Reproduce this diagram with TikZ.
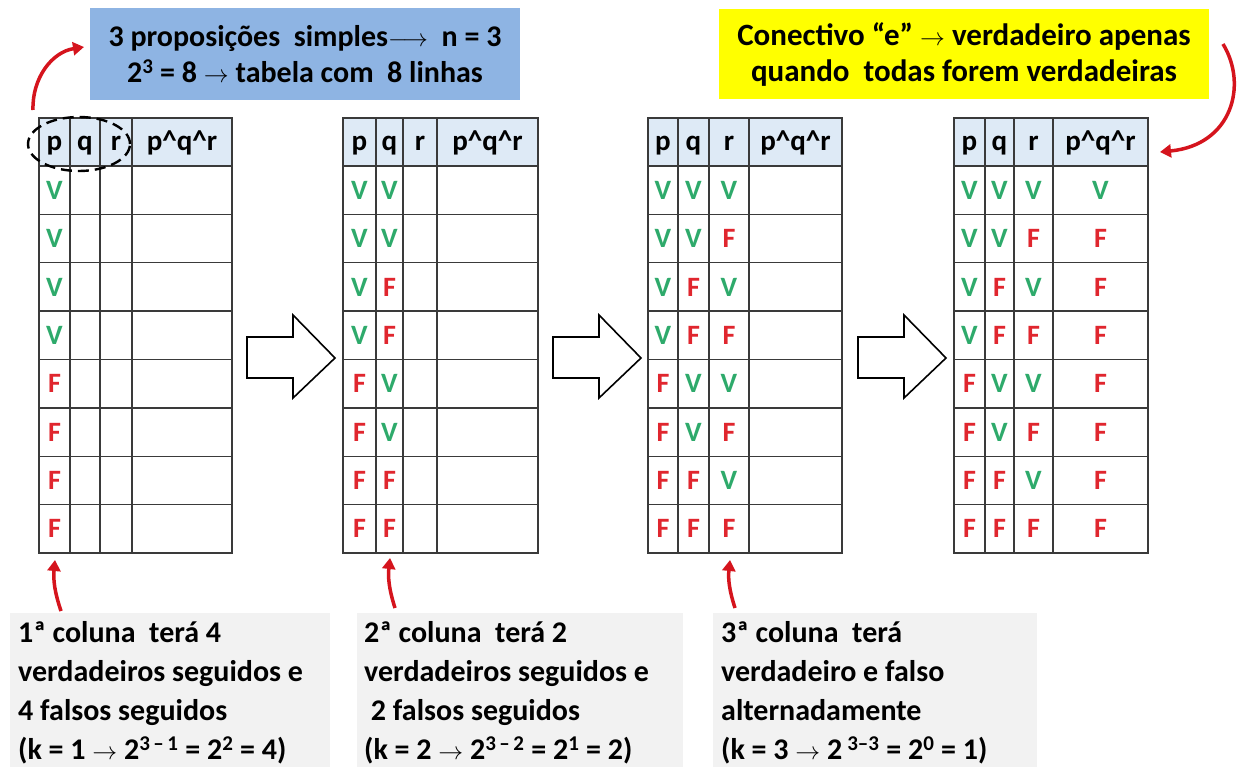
\documentclass[tikz,border=0pt]{standalone}
\usepackage{fontspec}
\setmainfont{Carlito}
\usetikzlibrary{arrows.meta,shapes.geometric}
\definecolor{hdr}{HTML}{DEEAF6}
\definecolor{vgreen}{HTML}{2EAA6B}
\definecolor{fred}{HTML}{E0262E}
\definecolor{arrred}{HTML}{D5141D}
\definecolor{bluebox}{HTML}{8EB4E3}
\definecolor{yellowbox}{HTML}{FFFF00}
\definecolor{graybox}{HTML}{F2F2F2}
\definecolor{linegray}{HTML}{3A3A3A}
\newcommand\tv[1]{\if V#1\textcolor{vgreen}{V}\else\textcolor{fred}{F}\fi}
\newcommand\drawtable[6]{%
  \fill[hdr] (#2,118) rectangle (#6,166);
  \foreach \k in {0,...,7} \draw[tline] (#2,{166+48.375*\k}) -- (#6,{166+48.375*\k});
  \draw[tline] (#2,118) rectangle (#6,553);
  \foreach \xx in {#3,#4,#5} \draw[tline] (\xx,118) -- (\xx,553);
  \node[hd] (#1hp) at ({(#2+#3)/2},151) {p};
  \node[hd] (#1hq) at ({(#3+#4)/2},151) {q};
  \node[hd] (#1hr) at ({(#4+#5)/2},151) {r};
  \node[hd] (#1hx) at ({(#5+#6)/2},151) {p\textasciicircum q\textasciicircum r};
}
\newcommand\fillcol[5]{%
  \foreach \v [count=\i] in {#5}
    \node[cell] (#1#2\i) at ({(#3+#4)/2},{166+48.375*(\i-0.5)}) {\tv{\v}};
}
\newcommand\blockarrow[1]{%
  \draw[barrow] ({247+#1},337) -- ({293+#1},337) -- ({293+#1},315) -- ({335+#1},358)
    -- ({293+#1},398) -- ({293+#1},378) -- ({247+#1},378) -- cycle;
}
\begin{document}
\begin{tikzpicture}[x=1pt,y=-1pt,
  tline/.style={draw=linegray,line width=1.3pt},
  hd/.style={font=\fontsize{29}{32}\selectfont\bfseries,anchor=base,inner sep=0pt},
  cell/.style={font=\fontsize{28}{32}\selectfont\bfseries,inner sep=0pt},
  topbox/.style={font=\fontsize{30}{36}\selectfont\bfseries,align=center,inner sep=0pt},
  btext/.style={font=\fontsize{30}{39}\selectfont\bfseries,align=left,
     anchor=north west,inner sep=0pt},
  redarrow/.style={draw=arrred,line width=3.5pt,-{Triangle[length=11pt,width=13pt]}},
  barrow/.style={draw=black,line width=1.6pt,fill=white,line join=miter}]
\useasboundingbox (0,0) rectangle (1237,767);
\fill[white] (0,0) rectangle (1237,767);

% top boxes
\fill[bluebox] (90,8) rectangle (520,100);
\node[topbox] (nb) at (305,54) {3 proposições\ \ simples$\longrightarrow$\ \ n = 3\\2\textsuperscript{3} = 8 $\rightarrow$ tabela com\ \ 8 linhas};
\fill[yellowbox] (719,9) rectangle (1209,99);
\node[topbox,font=\fontsize{31}{36}\selectfont\bfseries] (ny) at (964,54) {Conectivo “e” $\rightarrow$ verdadeiro apenas\\quando\ \ todas forem verdadeiras};

% tables
\drawtable{ta}{39}{70}{100}{132}{232}
\drawtable{tb}{343}{376}{403}{437}{538}
\drawtable{tc}{648}{678}{709}{749}{842}
\drawtable{td}{954}{985}{1014}{1053}{1148}

\fillcol{ta}{p}{39}{70}{V,V,V,V,F,F,F,F}
\fillcol{tb}{p}{343}{376}{V,V,V,V,F,F,F,F}
\fillcol{tb}{q}{376}{403}{V,V,F,F,V,V,F,F}
\fillcol{tc}{p}{648}{678}{V,V,V,V,F,F,F,F}
\fillcol{tc}{q}{678}{709}{V,V,F,F,V,V,F,F}
\fillcol{tc}{r}{709}{749}{V,F,V,F,V,F,V,F}
\fillcol{td}{p}{954}{985}{V,V,V,V,F,F,F,F}
\fillcol{td}{q}{985}{1014}{V,V,F,F,V,V,F,F}
\fillcol{td}{r}{1014}{1053}{V,F,V,F,V,F,V,F}
\fillcol{td}{x}{1053}{1148}{V,F,F,F,F,F,F,F}

% dashed ellipse
\node[draw=black,ellipse,dash pattern=on 11pt off 6pt,line width=2.4pt,
  minimum width=102pt,minimum height=54pt] (ell) at (79,144) {};

% block arrows
\blockarrow{0}
\blockarrow{306}
\blockarrow{611}

% bottom boxes
\fill[graybox] (10,613) rectangle (330,767);
\fill[graybox] (357,613) rectangle (683,767);
\fill[graybox] (713,613) rectangle (1037,767);
\node[btext] (bx1) at (18,621) {1ª coluna\ \ terá 4\\verdadeiros seguidos e\\4 falsos seguidos\\(k = 1 $\rightarrow$ 2\textsuperscript{3\,–\,1} = 2\textsuperscript{2} = 4)};
\node[btext] (bx2) at (364,621) {2ª coluna\ \ terá 2\\verdadeiros seguidos e\\\ 2 falsos seguidos\\(k = 2 $\rightarrow$ 2\textsuperscript{3\,–\,2} = 2\textsuperscript{1} = 2)};
\node[btext] (bx3) at (721,621) {3ª coluna\ \ terá\\verdadeiro e falso\\alternadamente\\(k = 3 $\rightarrow$ 2\,\textsuperscript{3–3} = 2\textsuperscript{0} = 1)};

% red arrows
\coordinate (s1) at (33,110);
\coordinate (e1) at (84,47);
\draw[redarrow] (s1) .. controls (32,78) and (52,52) .. (e1);
\coordinate (s2) at (1223,44);
\coordinate (e2) at (1160,152);
\draw[redarrow] (s2) .. controls (1248,85) and (1232,145) .. (e2);
\coordinate (b1) at (61,611);
\coordinate (t1) at (55,560);
\coordinate (b2) at (395,608);
\coordinate (t2) at (390,558);
\coordinate (b3) at (735,608);
\coordinate (t3) at (730,560);
\draw[redarrow] (b1) to[bend left=12] (t1);
\draw[redarrow] (b2) to[bend left=12] (t2);
\draw[redarrow] (b3) to[bend left=12] (t3);
\end{tikzpicture}
\end{document}
